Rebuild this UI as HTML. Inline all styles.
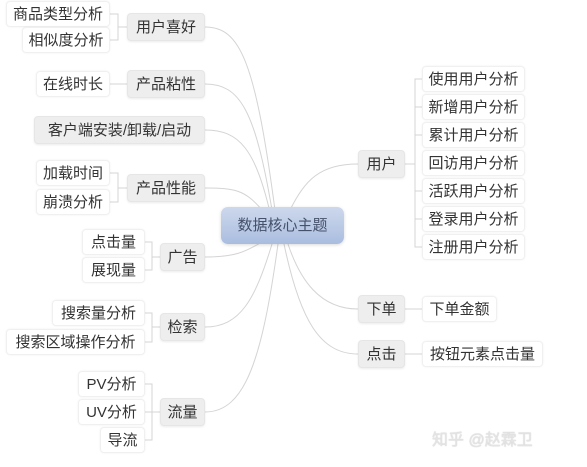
<!DOCTYPE html>
<html><head><meta charset="utf-8"><style>
body{margin:0;width:587px;height:467px;background:#fff;position:relative;overflow:hidden;font-family:"Liberation Sans","Noto Sans CJK SC",sans-serif;}
.n{position:absolute;height:26px;line-height:26px;font-size:15px;color:#333;text-align:center;box-sizing:border-box;border-radius:4px;white-space:nowrap}
.l{background:#fff;border:1px solid #f0f0f0;box-shadow:0 0 2px rgba(0,0,0,0.06)}
.b{background:#eeeeee;border:1px solid #e6e6e6;height:28px;line-height:28px;box-shadow:0 1px 2px rgba(0,0,0,0.08)}
svg{position:absolute;left:0;top:0}
</style></head><body>
<svg width="587" height="467" fill="none" stroke="#d4d4d4" stroke-width="1">
<path d="M275,210 C255,60 240,27 205,27"/>
<path d="M272,210 C255,110 240,84 205,84"/>
<path d="M270,212 C255,150 240,130 205,130"/>
<path d="M262,210 C245,190 235,188 205,188"/>
<path d="M262,242 C245,252 235,257 205,257"/>
<path d="M272,244 C255,300 240,327 205,327"/>
<path d="M278,244 C262,360 245,412 205,412"/>
<path d="M290,210 C305,180 320,164 358,164"/>
<path d="M288,244 C300,280 320,309 358,309"/>
<path d="M284,244 C300,320 320,354 358,354"/>
<path d="M110,14 H118 V40 H110 M118,27 H127"/>
<path d="M110,84 H127"/>
<path d="M110,173 H118 V202 H110 M118,188 H127"/>
<path d="M145,242 H152 V270 H145 M152,257 H160"/>
<path d="M145,313 H152 V342 H145 M152,327 H160"/>
<path d="M145,384 H152 V440 H145 M145,412 H160"/>
<path d="M405,164 H415 M422,79 H415 V247 H422 M415,107 H422 M415,135 H422 M415,191 H422 M415,219 H422"/>
<path d="M405,309 H422 M405,354 H422"/>
</svg>
<div class="n l" style="left:6px;top:1px;width:104px">商品类型分析</div>
<div class="n l" style="left:22px;top:27px;width:88px">相似度分析</div>
<div class="n b" style="left:127px;top:13px;width:78px">用户喜好</div>
<div class="n l" style="left:36px;top:71px;width:74px">在线时长</div>
<div class="n b" style="left:127px;top:70px;width:78px">产品粘性</div>
<div class="n b" style="left:34px;top:116px;width:171px">客户端安装/卸载/启动</div>
<div class="n l" style="left:36px;top:160px;width:74px">加载时间</div>
<div class="n l" style="left:36px;top:189px;width:74px">崩溃分析</div>
<div class="n b" style="left:127px;top:174px;width:78px">产品性能</div>
<div class="n" style="left:221px;top:207px;width:123px;height:37px;line-height:37px;border-radius:7px;background:linear-gradient(#cdd8ec,#aabde0);color:#45506a;box-shadow:0 1px 3px rgba(0,0,0,0.15)">数据核心主题</div>
<div class="n l" style="left:82px;top:229px;width:63px">点击量</div>
<div class="n l" style="left:82px;top:257px;width:63px">展现量</div>
<div class="n b" style="left:160px;top:243px;width:45px">广告</div>
<div class="n l" style="left:52px;top:300px;width:93px">搜索量分析</div>
<div class="n l" style="left:6px;top:329px;width:139px">搜索区域操作分析</div>
<div class="n b" style="left:160px;top:313px;width:45px">检索</div>
<div class="n l" style="left:78px;top:371px;width:67px">PV分析</div>
<div class="n l" style="left:78px;top:399px;width:67px">UV分析</div>
<div class="n l" style="left:100px;top:427px;width:45px">导流</div>
<div class="n b" style="left:160px;top:398px;width:45px">流量</div>
<div class="n b" style="left:358px;top:150px;width:47px">用户</div>
<div class="n l" style="left:422px;top:66px;width:103px">使用用户分析</div>
<div class="n l" style="left:422px;top:94px;width:103px">新增用户分析</div>
<div class="n l" style="left:422px;top:122px;width:103px">累计用户分析</div>
<div class="n l" style="left:422px;top:150px;width:103px">回访用户分析</div>
<div class="n l" style="left:422px;top:178px;width:103px">活跃用户分析</div>
<div class="n l" style="left:422px;top:206px;width:103px">登录用户分析</div>
<div class="n l" style="left:422px;top:234px;width:103px">注册用户分析</div>
<div class="n b" style="left:358px;top:295px;width:47px">下单</div>
<div class="n l" style="left:422px;top:296px;width:75px">下单金额</div>
<div class="n b" style="left:358px;top:340px;width:47px">点击</div>
<div class="n l" style="left:422px;top:341px;width:121px">按钮元素点击量</div>
<div style="position:absolute;left:432px;top:426px;font-size:16px;color:#e4e4e4;text-shadow:0 0 1px #bbb;font-family:'Liberation Sans','Noto Sans CJK SC',sans-serif">知乎 @赵霖卫</div>
</body></html>
